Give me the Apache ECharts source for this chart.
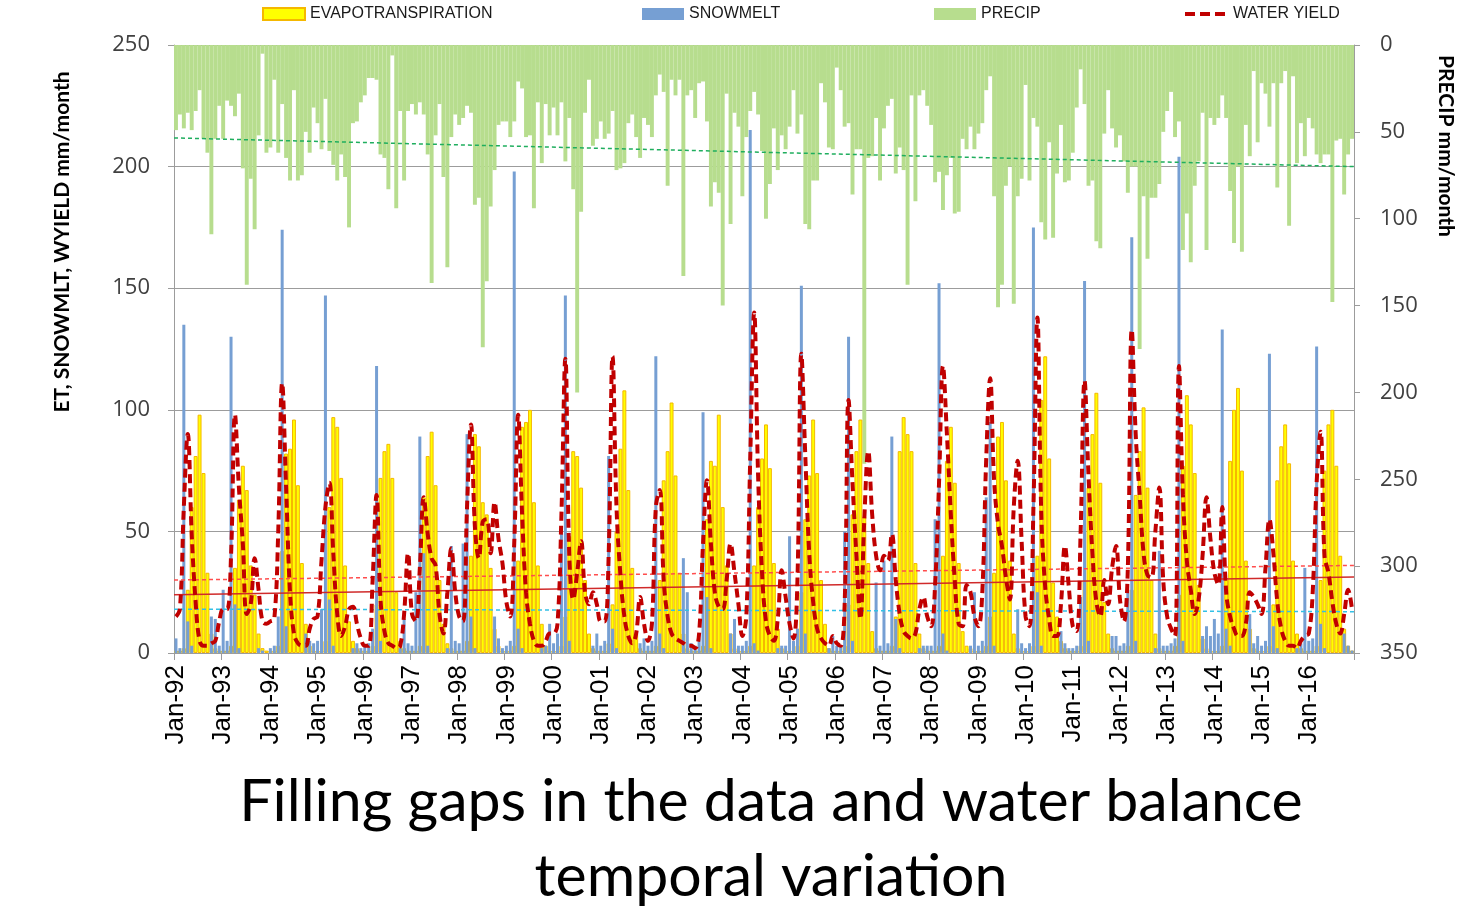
<!DOCTYPE html>
<html><head><meta charset="utf-8">
<script src="https://cdn.jsdelivr.net/npm/echarts@6/dist/echarts.min.js"></script>
<style>html,body{margin:0;padding:0;background:#fff}#c{width:1481px;height:919px}</style>
</head><body><div id="c"></div>
<script>
// ---- tick labels / categories ----
const years = ['92','93','94','95','96','97','98','99','00','01','02','03','04','05','06','07','08','09','10','11','12','13','14','15','16'];
const monthNames = ['Jan','Feb','Mar','Apr','May','Jun','Jul','Aug','Sep','Oct','Nov','Dec'];
const leftTicks = [0, 250, 50];   // min, max, step (ET, SNOWMLT, WYIELD)
const rightTicks = [0, 350, 50];  // min, max, step (PRECIP, inverted)

// ---- series values, mm/month, Jan..Dec per row, 1992..2016 ----
const evapotranspiration = [
  1,1,2,26,60,81,98,74,33,8,2,1,
  1,1,3,35,63,77,67,36,24,8,2,1,
  1,1,3,42,82,84,96,69,37,12,3,1,
  1,1,5,60,97,93,72,36,13,5,2,1,
  1,1,3,20,72,83,86,72,25,5,2,1,
  1,1,3,64,81,91,69,30,12,4,2,1,
  1,1,5,40,90,85,62,57,35,10,3,1,
  1,1,3,38,93,95,100,62,36,12,3,1,
  1,1,3,15,48,83,81,68,30,8,2,1,
  1,1,4,20,50,84,108,67,35,8,2,1,
  1,1,3,30,71,83,103,73,33,8,2,1,
  1,1,3,55,79,77,98,60,36,8,2,1,
  1,1,3,36,60,80,94,76,37,10,2,1,
  1,1,3,25,55,73,96,74,30,12,2,1,
  1,1,3,20,57,83,96,56,37,9,2,1,
  1,1,3,15,83,97,90,83,37,8,2,1,
  1,1,3,40,79,93,70,37,9,3,2,1,
  1,1,3,15,33,89,95,71,38,8,2,1,
  1,1,3,40,104,122,80,29,15,5,2,1,
  1,1,3,30,68,90,107,70,21,8,2,1,
  1,1,3,26,65,83,101,68,30,8,2,1,
  1,1,3,24,77,106,94,74,28,6,2,1,
  1,1,3,30,79,100,109,75,38,10,2,1,
  1,1,3,20,71,85,94,78,38,8,2,1,
  1,1,3,30,75,94,100,77,40,10,3,1
];
const snowmelt = [
  6,2,135,13,3,0,0,0,0,15,14,3,
  26,5,130,20,2,0,0,0,0,2,1,0,
  2,3,15,174,11,0,0,0,0,8,5,4,
  5,18,147,22,3,0,0,0,0,2,4,2,
  3,4,10,118,5,0,0,0,0,2,14,4,
  3,25,89,41,3,0,0,0,0,2,44,5,
  4,45,90,15,2,0,0,0,0,15,6,2,
  3,5,198,10,2,0,0,0,0,2,3,12,
  4,8,50,147,5,0,0,0,0,0,3,8,
  3,5,81,10,2,0,0,0,0,0,4,6,
  3,5,122,8,2,0,0,0,0,39,25,4,
  3,6,99,23,2,0,0,0,0,8,14,3,
  3,5,215,4,1,0,0,0,0,2,3,3,
  48,5,10,151,8,0,0,0,0,0,2,7,
  3,3,50,130,5,0,0,0,0,0,29,3,
  38,4,89,14,2,0,0,0,0,2,3,3,
  3,55,152,8,1,0,0,0,0,0,3,25,
  3,5,64,95,3,0,0,0,0,0,18,4,
  2,4,175,25,3,0,0,0,0,9,4,2,
  2,3,23,153,5,0,0,0,0,0,7,7,
  3,4,26,171,5,0,0,0,0,2,42,3,
  3,4,6,204,5,0,0,0,0,7,11,7,
  14,8,133,10,3,0,0,0,0,16,4,7,
  3,5,123,11,2,0,0,0,0,2,4,35,
  5,6,126,12,2,0,0,0,0,8,3,1
];
const precip = [
  49,40,48,39,49,38,26,54,62,109,54,35,
  54,32,35,41,28,71,138,77,106,52,5,62,
  59,20,62,34,65,78,26,78,75,50,62,36,
  45,60,31,61,69,78,63,76,105,45,44,33,
  29,19,19,20,63,65,83,6,94,38,78,38,
  34,40,33,40,63,137,52,34,76,128,53,40,
  46,42,35,39,92,88,174,136,93,72,46,44,
  44,53,44,21,25,53,52,94,33,68,34,52,
  36,52,33,67,42,83,200,96,39,20,58,54,
  44,54,51,38,72,71,68,45,40,53,65,42,
  46,53,29,17,27,81,20,29,20,133,29,26,
  42,22,21,44,93,79,85,150,28,103,39,47,
  87,53,38,27,40,61,100,80,48,72,52,60,
  47,26,51,40,103,106,78,78,22,33,59,60,
  13,26,47,45,86,60,60,241,65,64,42,78,
  48,35,31,74,59,72,138,29,90,29,26,35,
  46,79,73,95,75,65,97,96,54,60,47,60,
  51,45,26,18,87,151,138,81,70,149,87,77,
  23,78,42,47,102,112,56,111,74,46,79,78,
  62,36,14,34,81,78,113,117,51,26,48,59,
  52,67,85,70,70,175,87,123,88,88,80,50,
  38,27,53,44,118,97,125,81,67,39,118,42,
  46,42,29,42,84,114,70,119,46,64,15,56,
  22,28,47,22,82,22,15,104,18,68,45,64,
  42,48,63,68,63,63,148,55,54,86,63,54
];
const waterYield = [
  15,18,60,90,49,21,5,3,3,4,5,13,
  18,18,40,98,68,45,16,20,39,26,13,12,
  13,14,50,111,68,25,8,4,3,3,10,14,
  15,38,60,70,41,16,7,11,18,19,12,6,
  3,3,30,65,22,9,4,3,2,3,16,41,
  16,13,35,64,49,39,36,16,8,25,43,25,
  15,13,60,94,52,39,54,55,41,62,47,37,
  21,15,45,98,57,25,12,5,3,3,5,8,
  8,12,57,121,40,22,33,46,25,20,25,20,
  13,13,40,122,60,32,15,7,4,8,23,12,
  5,12,60,67,30,15,8,6,5,4,3,3,
  2,8,45,71,45,25,19,18,30,45,33,20,
  7,15,80,140,73,33,13,7,5,14,34,23,
  12,6,30,123,81,41,21,10,6,4,3,7,
  4,3,20,104,70,40,14,55,83,57,40,34,
  40,38,49,30,16,9,7,6,8,18,23,15,
  11,28,70,118,90,57,30,12,11,28,25,15,
  11,25,80,113,71,53,44,31,22,60,79,46,
  15,11,60,138,57,27,14,7,7,20,44,27,
  11,9,50,112,73,41,21,15,30,20,35,44,
  22,13,35,133,90,65,41,32,31,50,68,30,
  15,10,7,118,65,38,26,16,22,40,64,47,
  33,28,60,25,15,10,7,7,12,25,23,20,
  16,35,55,41,21,10,5,3,3,2,5,7,
  8,25,70,91,40,33,21,12,8,16,26,18
];
// linear trend lines: [value at start, value at end]
const trendPrecip = [53.5, 70];
const trendRedDotted = [30, 36];
const trendRedSolid = [24, 31.3];
const trendCyan = [18, 17];

// ---- build ----
const categories = [];
years.forEach(y => monthNames.forEach(m => categories.push(m + '-' + y)));
const nCat = categories.length;
const trend = arr => [[0, arr[0]], [nCat, arr[1]]];

const gray = '#9c9c9c';
const chart = echarts.init(document.getElementById('c'), null, {renderer: 'canvas'});
const legendText = {fontFamily: "'Liberation Sans Narrow','Liberation Sans',sans-serif", fontSize: 16, color: '#1a1a1a'};
const legendCommon = {top: 6, itemWidth: 42, itemHeight: 12, itemGap: 4, textStyle: legendText, padding: 0};

chart.setOption({
  animation: false,
  backgroundColor: '#ffffff',
  grid: {left: 174, right: 127, top: 45, bottom: 266, containLabel: false},
  legend: [
    Object.assign({data: [{name: 'EVAPOTRANSPIRATION', icon: 'rect'}], left: 262}, legendCommon),
    Object.assign({data: [{name: 'SNOWMELT', icon: 'rect'}], left: 642}, legendCommon),
    Object.assign({data: [{name: 'PRECIP', icon: 'rect'}], left: 934}, legendCommon),
    Object.assign({}, legendCommon, {
      data: [{name: 'WATER YIELD',
              icon: 'path://M0,0h10v4h-10z M15,0h10v4h-10z M30,0h10v4h-10z',
              itemStyle: {color: '#c00000', borderWidth: 0}}],
      left: 1185, itemWidth: 40, itemHeight: 4, itemGap: 4,
      textStyle: Object.assign({}, legendText, {padding: [0, 0, 0, 3]})})
  ],
  xAxis: [
    {type: 'category', data: categories, boundaryGap: true,
     axisLine: {show: true, lineStyle: {color: gray}},
     axisTick: {show: true, interval: 11, length: 7, lineStyle: {color: gray}},
     axisLabel: {interval: 11, rotate: 90, margin: 12, fontSize: 26, color: '#000',
                 fontFamily: "'Liberation Sans',Arial,sans-serif"},
     splitLine: {show: false}},
    {type: 'category', data: categories, boundaryGap: true, show: false},
    {type: 'category', data: categories, boundaryGap: true, show: false},
    {type: 'value', min: 0, max: nCat, show: false}
  ],
  yAxis: [
    {type: 'value', min: leftTicks[0], max: leftTicks[1], interval: leftTicks[2], position: 'left',
     axisLine: {show: true, lineStyle: {color: gray}},
     axisTick: {show: true, length: 6, lineStyle: {color: gray}},
     splitLine: {show: true, lineStyle: {color: gray, width: 1}},
     axisLabel: {fontSize: 22, color: '#404040', margin: 24, fontFamily: "'Open Sans',sans-serif"}},
    {type: 'value', min: rightTicks[0], max: rightTicks[1], interval: rightTicks[2], position: 'right', inverse: true,
     axisLine: {show: true, lineStyle: {color: gray}},
     axisTick: {show: true, length: 6, lineStyle: {color: gray}},
     splitLine: {show: false},
     axisLabel: {fontSize: 22, color: '#404040', margin: 26, fontFamily: "'Open Sans',sans-serif"}}
  ],
  series: [
    {name: 'PRECIP', type: 'bar', xAxisIndex: 1, yAxisIndex: 1, data: precip,
     barCategoryGap: '0%', itemStyle: {color: '#b7dd8e'}, z: 1},
    {name: 'EVAPOTRANSPIRATION', type: 'bar', xAxisIndex: 0, yAxisIndex: 0, data: evapotranspiration,
     barCategoryGap: '0%', itemStyle: {color: '#ffff00', borderColor: '#f5b800', borderWidth: 1}, z: 2},
    {name: 'SNOWMELT', type: 'bar', xAxisIndex: 2, yAxisIndex: 0, data: snowmelt,
     barWidth: 3, itemStyle: {color: '#769fd3'}, z: 3},
    {name: 'trendPrecip', type: 'line', xAxisIndex: 3, yAxisIndex: 1, data: trend(trendPrecip),
     symbol: 'none', silent: true, lineStyle: {color: '#1fae5e', width: 1.5, type: [4, 3]}, z: 4},
    {name: 'trendRedDotted', type: 'line', xAxisIndex: 3, yAxisIndex: 0, data: trend(trendRedDotted),
     symbol: 'none', silent: true, lineStyle: {color: '#ff4d4d', width: 1.5, type: [4, 3]}, z: 4},
    {name: 'trendRedSolid', type: 'line', xAxisIndex: 3, yAxisIndex: 0, data: trend(trendRedSolid),
     symbol: 'none', silent: true, lineStyle: {color: '#d02a2a', width: 1.5}, z: 4},
    {name: 'trendCyan', type: 'line', xAxisIndex: 3, yAxisIndex: 0, data: trend(trendCyan),
     symbol: 'none', silent: true, lineStyle: {color: '#33c0e6', width: 1.5, type: [4, 3]}, z: 4},
    {name: 'WATER YIELD', type: 'line', xAxisIndex: 0, yAxisIndex: 0, data: waterYield,
     smooth: 0.4, symbol: 'none', itemStyle: {color: '#c00000'},
     lineStyle: {color: '#c00000', width: 4, type: [9, 5]}, z: 6}
  ],
  graphic: [
    {type: 'text', x: 62, y: 242, rotation: Math.PI / 2,
     style: {text: 'ET, SNOWMLT, WYIELD mm/month', font: "bold 21px Lato, sans-serif", fill: '#000',
             textAlign: 'center', textVerticalAlign: 'middle'}},
    {type: 'text', x: 1446, y: 146, rotation: -Math.PI / 2,
     style: {text: 'PRECIP mm/month', font: "bold 21px Lato, sans-serif", fill: '#000',
             textAlign: 'center', textVerticalAlign: 'middle'}},
    {type: 'text', x: 771, y: 802,
     style: {text: 'Filling gaps in the data and water balance', font: "59px Lato, sans-serif", fill: '#000',
             textAlign: 'center', textVerticalAlign: 'middle'}},
    {type: 'text', x: 771, y: 877,
     style: {text: 'temporal variation', font: "59px Lato, sans-serif", fill: '#000',
             textAlign: 'center', textVerticalAlign: 'middle'}}
  ]
});
</script>
</body></html>
